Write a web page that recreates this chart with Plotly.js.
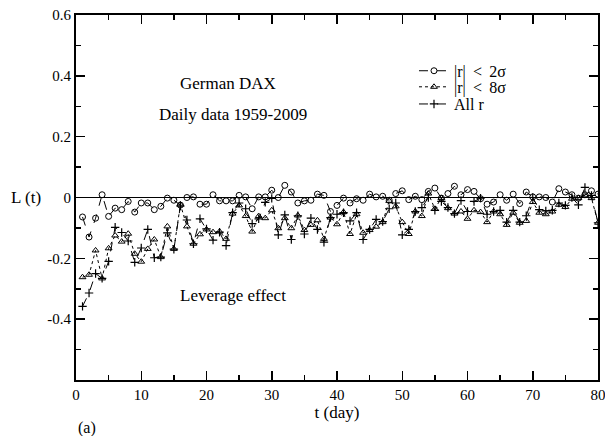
<!DOCTYPE html>
<html><head><meta charset="utf-8">
<script src="https://cdn.plot.ly/plotly-3.0.1.min.js"></script>
<style>html,body{margin:0;padding:0;background:#fff}#chart{width:605px;height:436px}</style>
</head><body><div id="chart"></div>
<script>
const days = Array.from({length: 80}, (_, i) => i + 1);
const r2sigma = [-0.064,-0.13,-0.068,0.009,-0.062,-0.035,-0.04,-0.013,-0.048,-0.018,-0.018,-0.04,-0.029,-0.002,-0.009,-0.025,0.0,0.002,-0.022,-0.022,
0.009,-0.011,-0.011,-0.011,0.007,0.002,-0.037,0.002,0.002,0.024,0.0,0.04,0.018,-0.018,-0.011,-0.009,0.011,0.007,-0.046,-0.026,
-0.002,-0.018,-0.004,-0.009,0.011,0.002,0.004,-0.009,0.013,0.022,-0.007,0.004,-0.007,0.02,0.031,-0.002,0.013,0.037,0.009,0.026,
0.02,-0.004,-0.022,-0.015,0.009,-0.009,0.011,-0.02,0.018,0.002,0.002,0.0,-0.015,0.029,0.018,0.009,-0.002,0.009,0.022,0.011];
const r8sigma = [-0.262,-0.254,-0.174,-0.266,-0.167,-0.125,-0.145,-0.119,-0.185,-0.211,-0.169,-0.138,-0.196,-0.095,-0.169,-0.023,-0.095,-0.152,-0.121,-0.105,
-0.114,-0.112,-0.136,-0.053,-0.026,-0.061,-0.112,-0.061,-0.068,-0.042,-0.101,-0.068,-0.101,-0.059,-0.107,-0.09,-0.075,-0.136,-0.066,-0.088,
-0.048,-0.12,-0.055,-0.116,-0.107,-0.096,-0.081,-0.011,-0.029,-0.081,-0.12,-0.046,-0.061,0.013,-0.037,-0.002,-0.035,-0.053,-0.046,-0.07,
-0.042,-0.048,-0.081,-0.046,-0.055,-0.09,-0.05,-0.083,-0.077,-0.015,-0.05,-0.055,-0.046,-0.024,-0.031,-0.004,-0.002,0.007,-0.002,-0.083];
const allR = [-0.358,-0.314,-0.25,-0.266,-0.21,-0.098,-0.115,-0.143,-0.213,-0.166,-0.105,-0.198,-0.196,-0.116,-0.17,-0.028,-0.074,-0.152,-0.07,-0.103,
-0.14,-0.114,-0.158,-0.05,-0.018,-0.037,-0.086,-0.07,-0.016,-0.003,-0.123,-0.057,-0.138,-0.06,-0.12,-0.068,-0.105,-0.147,-0.066,-0.055,
-0.05,-0.077,-0.05,-0.138,-0.105,-0.072,-0.079,-0.037,-0.018,-0.123,-0.105,-0.046,-0.033,0.0,-0.042,-0.013,-0.033,-0.053,-0.01,-0.046,
-0.013,-0.002,-0.055,-0.046,-0.042,-0.081,-0.042,-0.081,-0.06,0.0,-0.04,-0.044,-0.042,-0.018,-0.026,0.0,-0.024,0.033,0.007,-0.083];
const seriesNames = ["|r| \u2009<\u2009 2σ", "|r| \u2009<\u2009 8σ", "All r"];
const xTickVals = [0,10,20,30,40,50,60,70,80];
const yTickVals = [-0.4,-0.2,0,0.2,0.4,0.6];
const yTickText = ["-0.4","-0.2","0","0.2","0.4","0.6"];

const serif = "Liberation Serif";
const traces = [
  {x: days, y: r2sigma, name: seriesNames[0], legend: "legend", mode: "lines+markers", type: "scatter",
   line: {color: "#000", width: 1, dash: "dash"},
   marker: {symbol: "circle-open", size: 6, color: "#000", line: {width: 1, color: "#000"}}},
  {x: days, y: r8sigma, name: seriesNames[1], legend: "legend2", mode: "lines+markers", type: "scatter",
   line: {color: "#000", width: 1, dash: "dot"},
   marker: {symbol: "triangle-up-open", size: 6, color: "#000", line: {width: 1, color: "#000"}}},
  {x: days, y: allR, name: seriesNames[2], legend: "legend3", mode: "lines+markers", type: "scatter",
   line: {color: "#000", width: 1, dash: "dash"},
   marker: {symbol: "cross-thin-open", size: 6, color: "#000", line: {width: 1.2, color: "#000"}}}
];
const tickFont = {family: serif, size: 15, color: "#000"};
const axisCommon = {
  showgrid: false, zeroline: false, showline: true, linecolor: "#000", linewidth: 2,
  mirror: "allticks", ticks: "inside", ticklen: 9, tickwidth: 1.5, tickcolor: "#000",
  tickfont: tickFont
};
const legBase = {x: 0.6475, xanchor: "left", yanchor: "middle", bgcolor: "rgba(0,0,0,0)",
  font: {family: serif, size: 16, color: "#000"}, itemwidth: 30, tracegroupgap: 0};
const layout = {
  width: 605, height: 436,
  margin: {l: 76, r: 7, t: 15, b: 56},
  paper_bgcolor: "#fff", plot_bgcolor: "#fff",
  font: {family: serif, size: 15, color: "#000"},
  showlegend: true,
  legend: Object.assign({}, legBase, {y: 0.847}),
  legend2: Object.assign({}, legBase, {y: 0.803}),
  legend3: Object.assign({}, legBase, {y: 0.756}),
  xaxis: Object.assign({}, axisCommon, {range: [0, 80], tickvals: xTickVals, ticklabeloverflow: "allow",
    minor: {dtick: 5, ticks: "inside", ticklen: 5, tickwidth: 1.5, tickcolor: "#000"},
    title: {text: "t (day)", font: {family: serif, size: 17, color: "#000"}, standoff: 4}}),
  yaxis: Object.assign({}, axisCommon, {range: [-0.6, 0.6], tickvals: yTickVals, ticktext: yTickText,
    minor: {dtick: 0.1, ticks: "inside", ticklen: 5, tickwidth: 1.5, tickcolor: "#000"}}),
  shapes: [{type: "line", xref: "paper", x0: 0, x1: 1, yref: "y", y0: 0, y1: 0,
            line: {color: "#000", width: 1}}],
  annotations: [
    {text: "German DAX", xref: "x", yref: "paper", x: 23.3, y: 0.845, showarrow: false,
     font: {family: serif, size: 17, color: "#000"}},
    {text: "Daily data 1959-2009", xref: "x", yref: "paper", x: 24, y: 0.759, showarrow: false,
     font: {family: serif, size: 17, color: "#000"}},
    {text: "Leverage effect", xref: "x", yref: "paper", x: 24, y: 0.2, showarrow: false,
     font: {family: serif, size: 17, color: "#000"}},
    {text: "L (t)", xref: "paper", yref: "y", x: -0.0626, y: 0, xanchor: "right", showarrow: false,
     font: {family: serif, size: 17, color: "#000"}},
    {text: "(a)", xref: "paper", yref: "paper", x: 0.0, y: -0.132, xanchor: "left", yanchor: "middle", showarrow: false,
     font: {family: serif, size: 16, color: "#000"}}
  ]
};
Plotly.newPlot("chart", traces, layout, {displayModeBar: false, staticPlot: true});
</script></body></html>
